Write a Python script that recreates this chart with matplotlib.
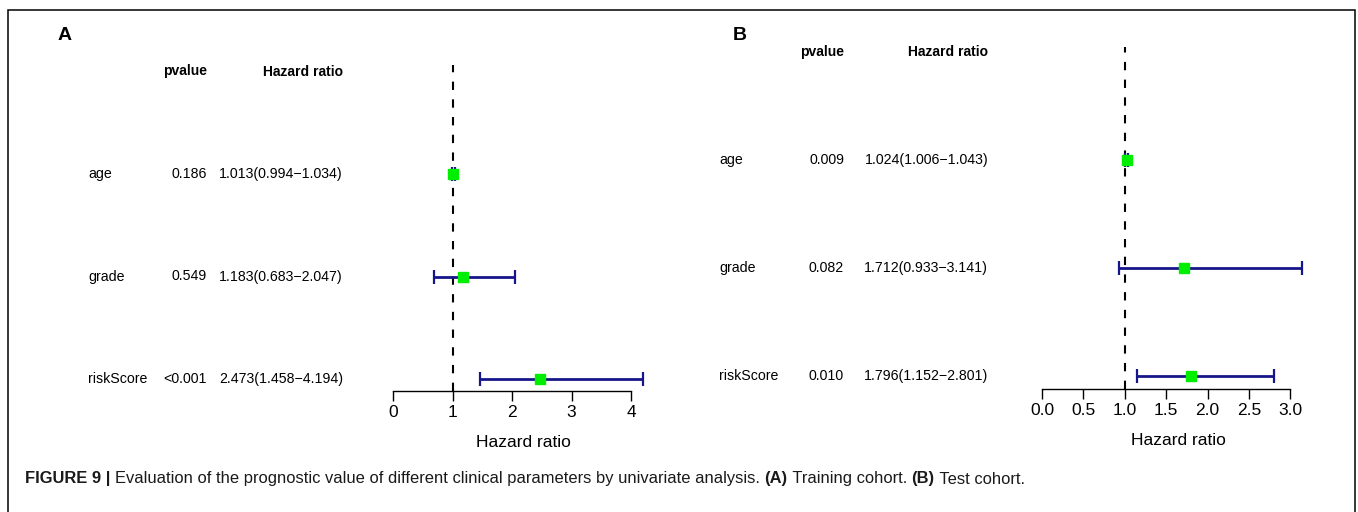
import matplotlib
matplotlib.use("Agg")
import matplotlib.pyplot as plt
from matplotlib import transforms
from matplotlib.patches import Rectangle

plt.rcParams['font.family'] = ['Liberation Sans', 'DejaVu Sans']

# ---------------- data ----------------
variables = ["age", "grade", "riskScore"]

a_pvalues = ["0.186", "0.549", "<0.001"]
a_hr = [1.013, 1.183, 2.473]
a_low = [0.994, 0.683, 1.458]
a_high = [1.034, 2.047, 4.194]
a_ticks = [0, 1, 2, 3, 4]
a_ticklabels = ["0", "1", "2", "3", "4"]

b_pvalues = ["0.009", "0.082", "0.010"]
b_hr = [1.024, 1.712, 1.796]
b_low = [1.006, 0.933, 1.152]
b_high = [1.043, 3.141, 2.801]
b_ticks = [0.0, 0.5, 1.0, 1.5, 2.0, 2.5, 3.0]
b_ticklabels = ["0.0", "0.5", "1.0", "1.5", "2.0", "2.5", "3.0"]

header_p = "pvalue"
header_hr = "Hazard ratio"
xlabel = "Hazard ratio"

caption_parts = [
    ("FIGURE 9 | ", "bold"),
    ("Evaluation of the prognostic value of different clinical parameters by univariate analysis. ", "normal"),
    ("(A)", "bold"),
    (" Training cohort. ", "normal"),
    ("(B)", "bold"),
    (" Test cohort.", "normal"),
]

W, H = 1358, 512
fig = plt.figure(figsize=(W / 100, H / 100), dpi=100)
fig.patch.set_facecolor("white")

NAVY = "#16168a"
GREEN = "#00ee00"


def hr_text(h, lo, hi):
    return f"{h:.3f}({lo:.3f}\u2212{hi:.3f})"


def panel(letter, letter_xy, x0_px, px_per_unit, xlim, row3_px, spacing_px,
          axis_px, top_px, dash_top_px, label_x, p_right, hr_right,
          pvals, hrs, lows, highs, ticks, ticklabels, tick_span):
    ylo = 3 - (axis_px - row3_px) / spacing_px
    yhi = 3 + (row3_px - top_px) / spacing_px
    left_px = x0_px + xlim[0] * px_per_unit
    width_px = (xlim[1] - xlim[0]) * px_per_unit
    ax = fig.add_axes([left_px / W, (H - axis_px) / H, width_px / W,
                       (axis_px - top_px) / H])
    ax.set_xlim(*xlim)
    ax.set_ylim(ylo, yhi)
    ax.patch.set_alpha(0)
    for s in ["left", "top", "right"]:
        ax.spines[s].set_visible(False)
    ax.spines["bottom"].set_bounds(*tick_span)
    ax.spines["bottom"].set_linewidth(1.0)
    ax.set_yticks([])
    ax.set_xticks(ticks)
    ax.set_xticklabels(ticklabels)
    ax.tick_params(axis="x", length=7, width=1.0, pad=3, labelsize=12.5)
    ax.set_xlabel(xlabel, fontsize=12.5, labelpad=11)

    rows = [3, 2, 1]
    dash_top = 3 + (row3_px - dash_top_px) / spacing_px
    ax.vlines(1, ylo, dash_top, colors="black", linestyles=(0, (4, 4.5)),
              linewidth=1.5, zorder=1)
    for y, h, lo, hi in zip(rows, hrs, lows, highs):
        ax.errorbar([h], [y], xerr=[[h - lo], [hi - h]], fmt="none",
                    ecolor=NAVY, elinewidth=2.0, capsize=5, capthick=1.6,
                    zorder=2, clip_on=False)
        ax.plot([h], [y], marker="s", markersize=7, color=GREEN,
                markeredgecolor=GREEN, linestyle="none", zorder=3,
                clip_on=False)

    tr = transforms.blended_transform_factory(fig.transFigure, ax.transData)
    ax.text(p_right / W, 4, header_p, transform=tr, ha="right",
            va="center", fontsize=10, fontweight="bold")
    ax.text(hr_right / W, 4, header_hr, transform=tr, ha="right",
            va="center", fontsize=10, fontweight="bold")
    for y, name, p, h, lo, hi in zip(rows, variables, pvals, hrs, lows, highs):
        ax.text(label_x / W, y, name, transform=tr, ha="left", va="center",
                fontsize=10.2)
        ax.text(p_right / W, y, p, transform=tr, ha="right", va="center",
                fontsize=10.2)
        ax.text(hr_right / W, y, hr_text(h, lo, hi), transform=tr,
                ha="right", va="center", fontsize=10.2)
    fig.text(letter_xy[0] / W, 1 - letter_xy[1] / H, letter, ha="center",
             va="center", fontsize=14, fontweight="bold")
    return ax


panel("A", (65, 35), 393, 59.5, (0, 4.4), 174, 102.5, 391, 55, 65,
      88, 207, 343, a_pvalues, a_hr, a_low, a_high, a_ticks, a_ticklabels,
      (0, 4))
panel("B", (740, 35), 1042, 82.8, (0, 3.3), 160, 108, 389, 40, 47,
      719, 844, 988, b_pvalues, b_hr, b_low, b_high, b_ticks, b_ticklabels,
      (0, 3))

# outer border (open at bottom)
fig.add_artist(Rectangle((8 / W, -0.2), (1355 - 8) / W, 1.2 - 10 / H,
                         transform=fig.transFigure, fill=False,
                         edgecolor="black", linewidth=1.1))

# caption built from pieces
fig.canvas.draw()
renderer = fig.canvas.get_renderer()
x = 25
cap_y = 1 - 479 / H
for txt, wt in caption_parts:
    t = fig.text(x / W, cap_y, txt, ha="left", va="center", fontsize=11.9,
                 fontweight=wt, color="#1a1a1a")
    bb = t.get_window_extent(renderer=renderer)
    x += bb.width

fig.savefig("out.png", dpi=100, facecolor="white")
